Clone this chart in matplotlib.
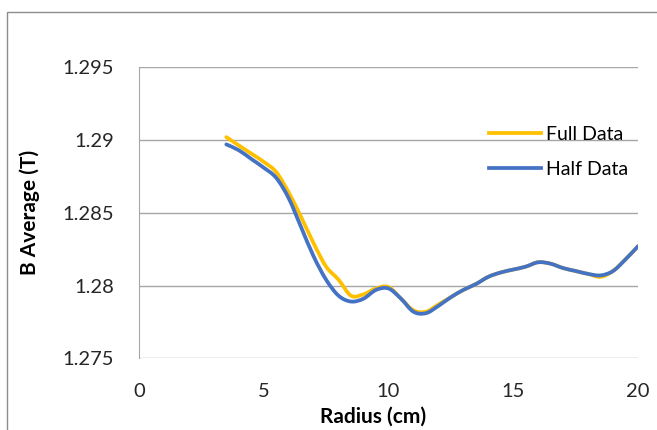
import numpy as np
import matplotlib.pyplot as plt
from matplotlib.patches import Rectangle, PathPatch
from matplotlib.path import Path

plt.rcParams['font.family'] = ['Lato', 'DejaVu Sans']

radius = [3.5, 4.0, 4.5, 5.0, 5.5, 6.0, 6.5, 7.0, 7.5, 8.0, 8.5, 9.0, 9.5, 10.0,
          10.5, 11.0, 11.5, 12.0, 12.5, 13.0, 13.5, 14.0, 14.5, 15.0, 15.5, 16.0,
          16.5, 17.0, 17.5, 18.0, 18.5, 19.0, 19.5, 20.0]
full_data = [1.2902, 1.28963, 1.28907, 1.2885, 1.2878, 1.2864, 1.2847, 1.2829, 1.2813,
             1.2804, 1.2793, 1.2794, 1.2798, 1.2799, 1.2791, 1.2783, 1.2782, 1.2787,
             1.2792, 1.2797, 1.2801, 1.2806, 1.2809, 1.2811, 1.2813, 1.2816, 1.2815,
             1.2812, 1.2810, 1.2808, 1.2806, 1.2810, 1.2818, 1.2827]
half_data = [1.2897, 1.2893, 1.2887, 1.2881, 1.2874, 1.2860, 1.2840, 1.2820, 1.2804,
             1.2793, 1.2789, 1.2791, 1.2797, 1.2798, 1.2791, 1.2782, 1.2781, 1.2786,
             1.2792, 1.2797, 1.2801, 1.2806, 1.2809, 1.2811, 1.2813, 1.2816, 1.2815,
             1.2812, 1.2810, 1.2808, 1.2807, 1.2810, 1.2818, 1.2827]

x_ticks = [0, 5, 10, 15, 20]
y_ticks = [1.275, 1.28, 1.285, 1.29, 1.295]
y_labels = ['1.275', '1.28', '1.285', '1.29', '1.295']


def smooth_path(x, y):
    # Excel-style smoothed line: cubic Bezier through each point
    x = np.asarray(x); y = np.asarray(y)
    n = len(x)
    verts = [(x[0], y[0])]
    codes = [Path.MOVETO]
    for i in range(n - 1):
        i0 = max(i - 1, 0); i3 = min(i + 2, n - 1)
        c1 = (x[i] + (x[i + 1] - x[i0]) / 6, y[i] + (y[i + 1] - y[i0]) / 6)
        c2 = (x[i + 1] - (x[i3] - x[i]) / 6, y[i + 1] - (y[i3] - y[i]) / 6)
        verts += [c1, c2, (x[i + 1], y[i + 1])]
        codes += [Path.CURVE4] * 3
    return Path(verts, codes)


fig = plt.figure(figsize=(6.57, 4.30), dpi=100)
ax = fig.add_axes([139/657, 1-358.3/430, (638-139)/657, (358.3-67.3)/430])

lw = 2.7
ax.add_patch(PathPatch(smooth_path(radius, full_data), fill=False, edgecolor='#FFC000',
                       linewidth=lw, capstyle='round'))
ax.add_patch(PathPatch(smooth_path(radius, half_data), fill=False, edgecolor='#4472C4',
                       linewidth=lw, capstyle='round'))
ax.plot([], [], color='#FFC000', linewidth=lw, label='Full Data')
ax.plot([], [], color='#4472C4', linewidth=lw, label='Half Data')

ax.set_xlim(0, 20)
ax.set_ylim(1.275, 1.295)
ax.set_xticks(x_ticks)
ax.set_yticks(y_ticks)
ax.set_yticklabels(y_labels)
ax.tick_params(length=0, labelsize=14.5, colors='#262626')
ax.tick_params(axis='y', pad=18)
ax.tick_params(axis='x', pad=18)
ax.grid(axis='y', color='#A6A6A6', linewidth=1)
ax.set_axisbelow(True)
for s in ['top', 'right', 'bottom']:
    ax.spines[s].set_visible(False)
ax.spines['left'].set_color('#A6A6A6')

fig.text(30/657, 1-212/430, 'B Average (T)', rotation=90, ha='center', va='center',
         fontsize=15, fontweight='bold')
fig.text(373/657, 1-417/430, 'Radius (cm)', ha='center', va='center',
         fontsize=15, fontweight='bold')

ax.legend(loc='upper left', bbox_to_anchor=(471/657, 1-108/430),
          bbox_transform=fig.transFigure, frameon=False, fontsize=14,
          handlelength=2.7, handletextpad=0.25, labelspacing=0.95)

fig.patches.append(Rectangle((7/657, -0.1), 2, 1.1 - 12/430, transform=fig.transFigure,
                             fill=False, edgecolor='#8C8C8C', linewidth=1))

plt.savefig('out.png', dpi=100)
